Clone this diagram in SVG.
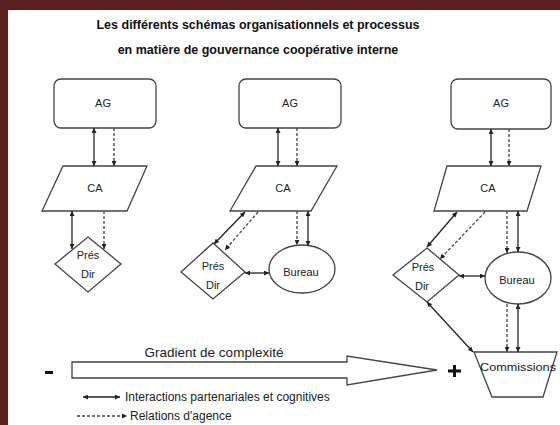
<svg xmlns="http://www.w3.org/2000/svg" width="560" height="425" viewBox="0 0 560 425">
<style>
.bg{fill:#ffffff}
.border{fill:#5e1f1f}
.shape{fill:#ffffff;stroke:#444;stroke-width:1.3}
.t{font-family:"Liberation Sans",Arial,sans-serif;font-size:11px;fill:#222;text-anchor:middle}
.title{font-family:"Liberation Sans",Arial,sans-serif;font-size:12.5px;font-weight:bold;fill:#111;text-anchor:middle}
.lg{font-family:"Liberation Sans",Arial,sans-serif;font-size:12px;fill:#222}
.grad{font-family:"Liberation Sans",Arial,sans-serif;font-size:13.5px;fill:#222;text-anchor:middle}
.s{stroke:#222;stroke-width:1.3;fill:none}
.d{stroke:#444;stroke-width:1.3;fill:none;stroke-dasharray:3,2}
</style>
<defs>
<marker id="ah" viewBox="0 0 10 10" refX="10" refY="5" markerUnits="userSpaceOnUse" markerWidth="6" markerHeight="5" orient="auto-start-reverse">
<path d="M0,0 L10,5 L0,10 z" fill="#222"/>
</marker>
</defs>
<rect class="bg" x="0" y="0" width="560" height="425"/>
<rect class="border" x="0" y="0" width="560" height="10"/>
<rect class="border" x="0" y="0" width="8" height="425"/>

<g id="title">
<text class="title" x="258" y="29">Les différents schémas organisationnels et processus</text>
<text class="title" x="258" y="54">en matière de gouvernance coopérative interne</text>
</g>

<!-- Panel 1 -->
<g id="ag1"><rect class="shape" x="54" y="79" width="102" height="49" rx="7"/><text class="t" x="103" y="107">AG</text></g>
<g id="ca1"><polygon class="shape" points="63,166 147,166 127,211 42,211"/><text class="t" x="95" y="192">CA</text></g>
<g id="pd1"><polygon class="shape" points="88,237 121,264 88,292 55,264"/><text class="t" x="88" y="259">Prés</text><text class="t" x="88" y="278">Dir</text></g>

<!-- Panel 2 -->
<g id="ag2"><rect class="shape" x="239" y="79" width="102" height="49" rx="7"/><text class="t" x="290" y="107">AG</text></g>
<g id="ca2"><polygon class="shape" points="256,166 337,166 311,211 230,211"/><text class="t" x="283" y="192">CA</text></g>
<g id="pd2"><polygon class="shape" points="213,243 245,272 213,299 181,272"/><text class="t" x="213" y="270">Prés</text><text class="t" x="213" y="289">Dir</text></g>
<g id="bu2"><ellipse class="shape" cx="302" cy="269" rx="33" ry="24"/><text class="t" x="301" y="276">Bureau</text></g>

<!-- Panel 3 -->
<g id="ag3"><rect class="shape" x="451" y="79" width="100" height="50" rx="7"/><text class="t" x="501" y="107">AG</text></g>
<g id="ca3"><polygon class="shape" points="447,166 541,166 527,211 434,211"/><text class="t" x="488" y="192">CA</text></g>
<g id="pd3"><polygon class="shape" points="427,248 459,275 427,302 393,275"/><text class="t" x="423" y="271">Prés</text><text class="t" x="422" y="290">Dir</text></g>
<g id="bu3"><ellipse class="shape" cx="518" cy="278" rx="33" ry="26"/><text class="t" x="517" y="284">Bureau</text></g>
<g id="com"><polygon class="shape" points="474,352 557,352 543,397 492,397"/><text class="t" x="518" y="371" textLength="76" lengthAdjust="spacingAndGlyphs">Commissions</text></g>

<!-- Connectors -->
<g id="connectors">
<line class="s" x1="94" y1="128" x2="94" y2="166" marker-start="url(#ah)" marker-end="url(#ah)"/>
<line class="d" x1="114" y1="128" x2="114" y2="166" marker-end="url(#ah)"/>
<line class="s" x1="72" y1="211" x2="72" y2="249" marker-start="url(#ah)" marker-end="url(#ah)"/>
<line class="d" x1="104" y1="211" x2="104" y2="249" marker-end="url(#ah)"/>

<line class="s" x1="278" y1="128" x2="278" y2="166" marker-start="url(#ah)" marker-end="url(#ah)"/>
<line class="d" x1="297" y1="128" x2="297" y2="166" marker-end="url(#ah)"/>
<line class="s" x1="245" y1="212" x2="214" y2="244" marker-start="url(#ah)" marker-end="url(#ah)"/>
<line class="d" x1="258" y1="212" x2="225" y2="250" marker-end="url(#ah)"/>
<line class="d" x1="297" y1="211" x2="297" y2="245" marker-end="url(#ah)"/>
<line class="s" x1="308" y1="211" x2="308" y2="246" marker-start="url(#ah)" marker-end="url(#ah)"/>
<line class="s" x1="245" y1="273" x2="269" y2="273" marker-start="url(#ah)" marker-end="url(#ah)"/>

<line class="s" x1="491" y1="129" x2="491" y2="166" marker-start="url(#ah)" marker-end="url(#ah)"/>
<line class="d" x1="509" y1="129" x2="509" y2="166" marker-end="url(#ah)"/>
<line class="s" x1="457" y1="212" x2="427" y2="247" marker-start="url(#ah)" marker-end="url(#ah)"/>
<line class="d" x1="485" y1="212" x2="440" y2="259" marker-end="url(#ah)"/>
<line class="d" x1="507" y1="211" x2="507" y2="253" marker-end="url(#ah)"/>
<line class="s" x1="518" y1="211" x2="518" y2="252" marker-start="url(#ah)" marker-end="url(#ah)"/>
<line class="s" x1="459" y1="276" x2="485" y2="276" marker-start="url(#ah)" marker-end="url(#ah)"/>
<line class="d" x1="507" y1="304" x2="507" y2="352" marker-end="url(#ah)"/>
<line class="s" x1="518" y1="304" x2="518" y2="352" marker-start="url(#ah)" marker-end="url(#ah)"/>
<line class="s" x1="427" y1="302" x2="473" y2="352" marker-start="url(#ah)" marker-end="url(#ah)"/>
</g>

<!-- Gradient -->
<g id="gradient">
<text class="grad" x="214" y="357">Gradient de complexité</text>
<polygon class="shape" points="72,362 347,362 347,356 437,370 347,385 347,378 72,378"/>
<rect x="45" y="371" width="8" height="3" fill="#111"/>
<rect x="448" y="369.5" width="13" height="3" fill="#111"/>
<rect x="453" y="365" width="3" height="12" fill="#111"/>
</g>

<!-- Legend -->
<g id="legend">
<line class="s" x1="83" y1="397" x2="120" y2="397" marker-start="url(#ah)" marker-end="url(#ah)"/>
<text class="lg" x="125" y="401">Interactions partenariales et cognitives</text>
<line class="d" x1="77" y1="416" x2="127" y2="416" marker-end="url(#ah)"/>
<text class="lg" x="130" y="420">Relations d'agence</text>
</g>
</svg>
